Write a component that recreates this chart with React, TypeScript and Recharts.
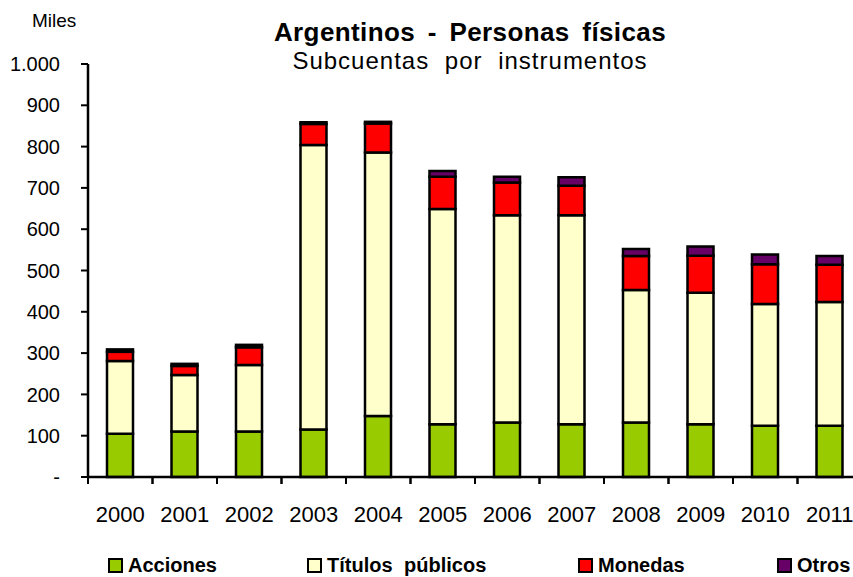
import { BarChart, Bar, XAxis, YAxis } from 'recharts'

const years = ['2000', '2001', '2002', '2003', '2004', '2005', '2006', '2007', '2008', '2009', '2010', '2011']
const acciones = [105, 110, 110, 115, 148, 128, 132, 128, 132, 128, 124, 124]
const titulos = [176, 137, 161, 689, 638, 521, 502, 506, 321, 318, 295, 300]
const monedas = [22, 22, 43, 51, 70, 78, 79, 71, 82, 90, 96, 90]
const otros = [6, 5, 6, 4, 4, 14, 14, 21, 17, 22, 24, 21]
const yTicks = [0, 100, 200, 300, 400, 500, 600, 700, 800, 900, 1000]

const series = [
  { key: 'acciones', name: 'Acciones', color: '#99CC00', legendX: 108 },
  { key: 'titulos', name: 'Títulos públicos', color: '#FFFFCC', legendX: 307 },
  { key: 'monedas', name: 'Monedas', color: '#FF0000', legendX: 578 },
  { key: 'otros', name: 'Otros', color: '#660066', legendX: 777 },
]

const data = years.map((year, i) => ({
  year,
  acciones: acciones[i],
  titulos: titulos[i],
  monedas: monedas[i],
  otros: otros[i],
}))

const FONT = '"Liberation Sans", Arial, Helvetica, sans-serif'
const PLOT_BOTTOM = 477
const STEP = 774 / years.length

function XTick({ x, payload }: any) {
  return (
    <g>
      <text x={x} y={522} textAnchor="middle" fontSize={22} fill="#000" fontFamily={FONT}>
        {payload.value}
      </text>
      <line x1={x - STEP / 2} x2={x - STEP / 2} y1={PLOT_BOTTOM} y2={PLOT_BOTTOM + 7} stroke="#000" strokeWidth={2} />
      <line x1={x + STEP / 2} x2={x + STEP / 2} y1={PLOT_BOTTOM} y2={PLOT_BOTTOM + 7} stroke="#000" strokeWidth={2} />
    </g>
  )
}

const fmtY = (v: number) => (v === 0 ? '-' : v >= 1000 ? '1.000' : String(v))

export default function App() {
  return (
    <div style={{ position: 'absolute', left: 0, top: 0, width: 853, height: 577, overflow: 'hidden', background: '#fff', fontFamily: FONT }}>
      {/* titles */}
      <div style={{ position: 'absolute', left: 0, top: 19, width: 940, textAlign: 'center', fontSize: 26, lineHeight: '26px', fontWeight: 'bold', wordSpacing: 5, letterSpacing: 0.4 }}>
        Argentinos - Personas físicas
      </div>
      <div style={{ position: 'absolute', left: 0, top: 49, width: 940, textAlign: 'center', fontSize: 24, lineHeight: '24px', wordSpacing: 8, letterSpacing: 1 }}>
        Subcuentas por instrumentos
      </div>
      <div style={{ position: 'absolute', left: 32, top: 11, fontSize: 19, lineHeight: '19px' }}>Miles</div>

      <BarChart width={870} height={577} data={data} margin={{ top: 64, right: 8, bottom: 0, left: 0 }}>
        <XAxis
          dataKey="year"
          height={100}
          interval={0}
          tickLine={false}
          axisLine={{ stroke: '#000', strokeWidth: 2.5 }}
          tick={<XTick />}
        />
        <YAxis
          width={88}
          domain={[0, 1000]}
          ticks={yTicks}
          tickFormatter={fmtY}
          tickSize={7}
          tickMargin={21}
          tickLine={{ stroke: '#000', strokeWidth: 2 }}
          axisLine={{ stroke: '#000', strokeWidth: 2.5 }}
          tick={{ fill: '#000', fontSize: 20, fontFamily: FONT }}
        />
        {series.map((s) => (
          <Bar key={s.key} dataKey={s.key} name={s.name} stackId="a" fill={s.color} stroke="#000" strokeWidth={2.5} barSize={26} isAnimationActive={false} />
        ))}
      </BarChart>

      {/* legend */}
      {series.map((s) => (
        <div key={s.key} style={{ position: 'absolute', left: s.legendX, top: 555, height: 20, display: 'flex', alignItems: 'center' }}>
          <div style={{ width: 11, height: 11, background: s.color, border: '2px solid #000', marginRight: 5 }} />
          <span style={{ fontSize: 20, fontWeight: 'bold', wordSpacing: 6 }}>{s.name}</span>
        </div>
      ))}
    </div>
  )
}
